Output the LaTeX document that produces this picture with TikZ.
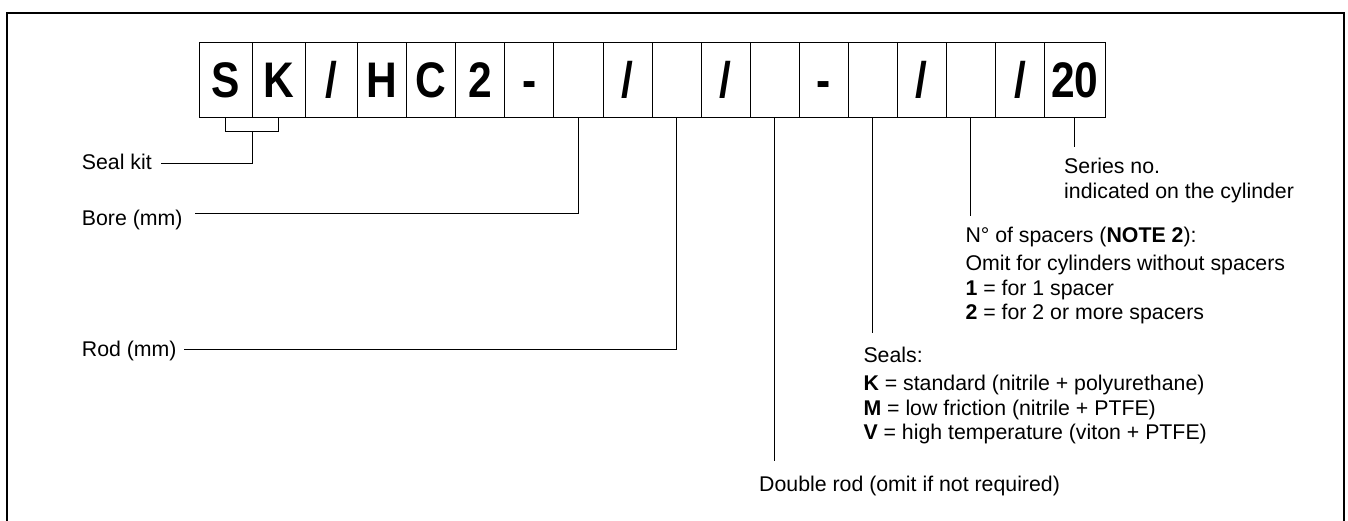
\documentclass[tikz,border=0pt]{standalone}
\usepackage{fontspec}
\setmainfont{Liberation Sans}
\newfontfamily\boxfont[FakeStretch=0.85]{Liberation Sans}
\begin{document}
\begin{tikzpicture}[x=1pt,y=-1pt,
  cell/.style={draw=black,line width=0.8pt,minimum height=74.6pt,inner sep=0pt,
    text height=36pt,text depth=0pt,
    font=\boxfont\bfseries\fontsize{50}{50}\selectfont},
  lbl/.style={anchor=base west,inner sep=0pt,font=\fontsize{21.3}{24}\selectfont},
  conn/.style={draw=black,line width=1pt},
  frame/.style={draw=black,line width=1.3pt}]
\path[use as bounding box] (0,0) rectangle (1348,521);
\draw[frame] (7,530) -- (7,13) -- (1344,13) -- (1344,530);

% code boxes
\node[cell,minimum width=53.2pt] (b1) at (225.6,80) {S};
\node[cell,minimum width=52.7pt] (b2) at (278.55,80) {K};
\node[cell,minimum width=52.7pt] (b3) at (331.25,80) {/};
\node[cell,minimum width=49.06pt] (b4) at (382.13,80) {H};
\node[cell,minimum width=49.06pt] (b5) at (431.19,80) {C};
\node[cell,minimum width=49.06pt] (b6) at (480.25,80) {2};
\node[cell,minimum width=49.06pt] (b7) at (529.31,80) {-};
\node[cell,minimum width=49.06pt] (b8) at (578.37,80) {};
\node[cell,minimum width=49.06pt] (b9) at (627.43,80) {/};
\node[cell,minimum width=49.06pt] (b10) at (676.49,80) {};
\node[cell,minimum width=49.06pt] (b11) at (725.55,80) {/};
\node[cell,minimum width=49.06pt] (b12) at (774.61,80) {};
\node[cell,minimum width=49.06pt] (b13) at (823.67,80) {-};
\node[cell,minimum width=49.06pt] (b14) at (872.73,80) {};
\node[cell,minimum width=49.06pt] (b15) at (921.79,80) {/};
\node[cell,minimum width=49.06pt] (b16) at (970.85,80) {};
\node[cell,minimum width=49.06pt] (b17) at (1019.91,80) {/};
\node[cell,minimum width=60.56pt] (b18) at (1074.72,80) {20};

% left labels
\node[lbl] (sealkit) at (81.7,170) {Seal kit};
\node[lbl] (bore) at (81.7,225.7) {Bore (mm)};
\node[lbl] (rod) at (81.7,356) {Rod (mm)};

% right labels
\node[lbl] (ser1) at (1064,174) {Series no.};
\node[lbl] (ser2) at (1064,198.3) {indicated on the cylinder};
\node[lbl] (sp1) at (965.3,242.7) {N° of spacers (\textbf{NOTE 2}):};
\node[lbl] (sp2) at (965.3,270.7) {Omit for cylinders without spacers};
\node[lbl] (sp3) at (965.3,295) {\textbf{1} = for 1 spacer};
\node[lbl] (sp4) at (965.3,319) {\textbf{2} = for 2 or more spacers};
\node[lbl] (se1) at (863.3,362.3) {Seals:};
\node[lbl] (se2) at (863.3,390.7) {\textbf{K} = standard (nitrile + polyurethane)};
\node[lbl] (se3) at (863.3,415) {\textbf{M} = low friction (nitrile + PTFE)};
\node[lbl] (se4) at (863.3,439) {\textbf{V} = high temperature (viton + PTFE)};
\node[lbl] (dr) at (759,491.7) {Double rod (omit if not required)};

% connector end points
\coordinate (brk) at (252.2,131.7);
\coordinate (drend) at (b12.south |- 0,460.7);
\coordinate (seend) at (b14.south |- 0,333);
\coordinate (spend) at (b16.south |- 0,216);
\coordinate (srend) at (b18.south |- 0,147);

% connectors
\draw[conn] (b1.south) -- (b1.south |- brk) -- (b2.south |- brk) -- (b2.south);
\draw[conn] (brk) |- ([xshift=9.2pt,yshift=6.7pt]sealkit.base east);
\draw[conn] (b8.south) |- ([xshift=12.7pt,yshift=11.7pt]bore.base east);
\draw[conn] (b10.south) |- ([xshift=7.6pt,yshift=6.7pt]rod.base east);
\draw[conn] (b12.south) -- (drend);
\draw[conn] (b14.south) -- (seend);
\draw[conn] (b16.south) -- (spend);
\draw[conn] (b18.south) -- (srend);
\end{tikzpicture}
\end{document}
